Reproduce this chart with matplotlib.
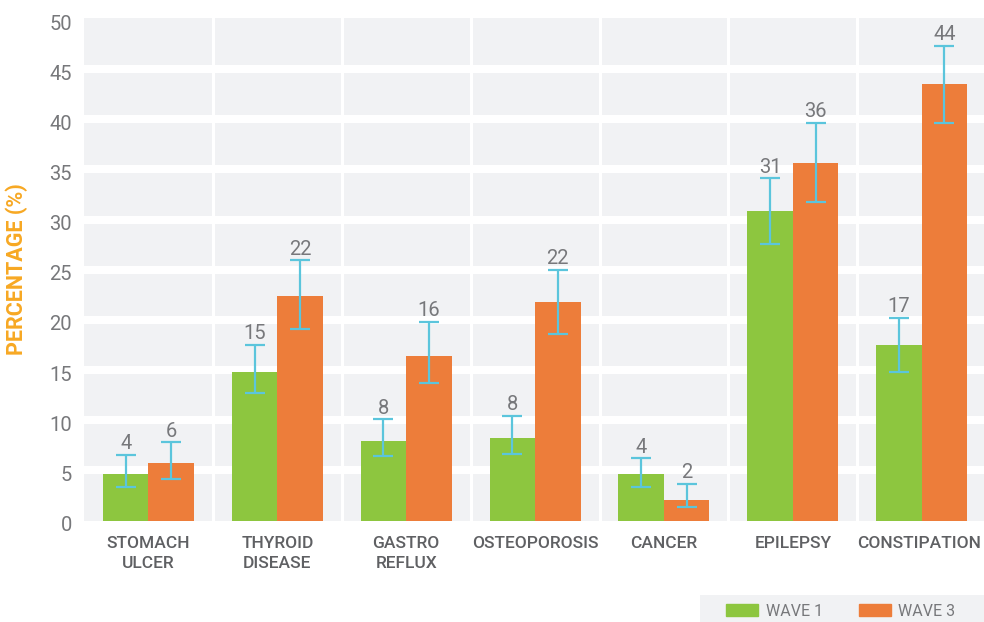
import matplotlib
matplotlib.use("Agg")
import matplotlib.pyplot as plt
import matplotlib.transforms as mtransforms
from matplotlib.patches import Rectangle, Patch
import numpy as np

categories = ["STOMACH\nULCER", "THYROID\nDISEASE", "GASTRO\nREFLUX", "OSTEOPOROSIS",
              "CANCER", "EPILEPSY", "CONSTIPATION"]
wave1 = [4.64, 14.8, 7.93, 8.23, 4.64, 30.86, 17.5]
wave1_low = [3.37, 12.74, 6.43, 6.63, 3.37, 27.57, 14.84]
wave1_high = [6.56, 17.5, 10.09, 10.45, 6.2, 34.12, 20.22]
wave3 = [5.73, 22.38, 16.4, 21.79, 2.04, 35.64, 43.52]
wave3_low = [4.1, 19.06, 13.74, 18.6, 1.38, 31.72, 39.63]
wave3_high = [7.8, 25.94, 19.79, 25.0, 3.67, 39.66, 47.34]
labels1 = ["4", "15", "8", "8", "4", "31", "17"]
labels3 = ["6", "22", "16", "22", "2", "36", "44"]
series_names = ["WAVE 1", "WAVE 3"]
yticks = [0, 5, 10, 15, 20, 25, 30, 35, 40, 45, 50]

GREEN = "#8dc63f"
ORANGE = "#ed7d3a"
ERR = "#5bc5dc"
BG = "#f1f2f4"
GRAY = "#77787b"
DARK = "#5f6063"
YEL = "#f7a823"

plt.rcParams['font.family'] = ['Roboto', 'DejaVu Sans']

W, H = 984, 622
fig = plt.figure(figsize=(W / 100, H / 100), dpi=100)
ax = fig.add_axes([84 / W, (H - 520.5) / H, (W - 84) / W, 502.5 / H])
ax.set_facecolor(BG)

x = np.arange(len(categories))
bw = 0.353
ax.set_xlim(-0.5, 6.483)
ax.set_ylim(0, 50.1)

# white grid bands
for yv in yticks[1:-1]:
    ax.axhline(yv, color="white", lw=5.76, zorder=1)
for xv in x[:-1] + 0.5:
    ax.axvline(xv, color="white", lw=2.16, zorder=1)

b1 = ax.bar(x - bw / 2, wave1, bw, color=GREEN, zorder=2, label=series_names[0])
b3 = ax.bar(x + bw / 2, wave3, bw, color=ORANGE, zorder=2, label=series_names[1])

w1 = np.array(wave1); w3 = np.array(wave3)
ax.errorbar(x - bw / 2, w1, yerr=[w1 - np.array(wave1_low), np.array(wave1_high) - w1],
            fmt="none", ecolor=ERR, elinewidth=1.6, capsize=7.5, capthick=1.6, zorder=3)
ax.errorbar(x + bw / 2, w3, yerr=[w3 - np.array(wave3_low), np.array(wave3_high) - w3],
            fmt="none", ecolor=ERR, elinewidth=1.6, capsize=7.5, capthick=1.6, zorder=3)

for xi, hi, lab in zip(x - bw / 2, wave1_high, labels1):
    ax.annotate(lab, (xi, hi), xytext=(0, 4), textcoords="offset points",
                ha="center", va="baseline", fontsize=14.5, color=GRAY, zorder=4)
for xi, hi, lab in zip(x + bw / 2, wave3_high, labels3):
    ax.annotate(lab, (xi, hi), xytext=(0, 4), textcoords="offset points",
                ha="center", va="baseline", fontsize=14.5, color=GRAY, zorder=4)

for s in ax.spines.values():
    s.set_visible(False)

ax.set_yticks(yticks)
ax.set_yticklabels([str(v) for v in yticks], fontsize=14.5, color=GRAY)
ax.tick_params(axis="y", length=0, pad=8.6)
off = mtransforms.ScaledTranslation(0, -3 / 100, fig.dpi_scale_trans)
for lab in ax.get_yticklabels():
    lab.set_transform(lab.get_transform() + off)

ax.set_xticks(x)
ax.set_xticklabels(categories, fontsize=12.5, color=DARK, fontweight="medium", linespacing=1.45)
ax.tick_params(axis="x", length=0, pad=11)
lastoff = mtransforms.ScaledTranslation(-3 / 100, 0, fig.dpi_scale_trans)
xl = ax.get_xticklabels()[-1]
xl.set_transform(xl.get_transform() + lastoff)

ax.set_ylabel("PERCENTAGE (%)", fontsize=15.5, fontweight="bold", color=YEL, va="center")
ax.yaxis.set_label_coords((17 - 84) / (W - 84), 0.5)

# legend
fig.patches.append(Rectangle((700 / W, 0), (W - 700) / W, 27 / H, transform=fig.transFigure,
                             facecolor=BG, edgecolor="none", zorder=0))
handles = [Patch(color=GREEN), Patch(color=ORANGE)]
fig.legend(handles, series_names, loc="center", bbox_to_anchor=(841 / W, 1 - 611 / H),
           ncol=2, frameon=False, handlelength=2.0, handleheight=0.75,
           handletextpad=0.5, columnspacing=2.2, labelcolor=GRAY, borderpad=0,
           prop={"size": 11.5})

fig.savefig("out.png", dpi=100)
